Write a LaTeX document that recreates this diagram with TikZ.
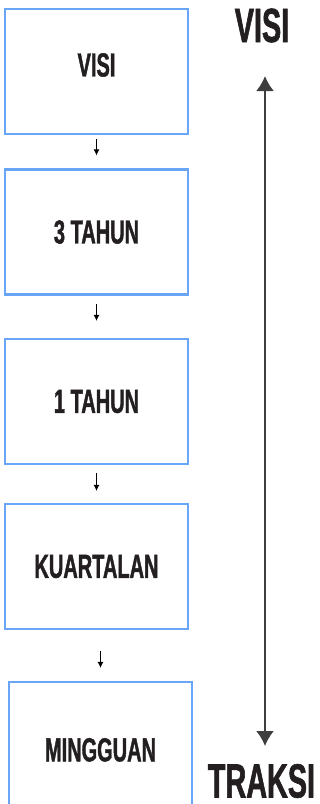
\documentclass[tikz,border=0pt]{standalone}
\usepackage{fontspec}
\setmainfont{Liberation Sans}[FakeStretch=0.6,BoldFeatures={FakeBold=1.2}]
\usetikzlibrary{arrows.meta}

\definecolor{boxblue}{RGB}{106,166,248}
\definecolor{ink}{RGB}{35,31,32}
\definecolor{axisgray}{RGB}{62,62,62}

\tikzset{every picture/.style={line width=0.75pt}}
\tikzset{
  stage/.style={draw=boxblue, line width=1.6pt, minimum width=137.25pt,
    minimum height=93.75pt, inner sep=0pt, text=ink,
    font=\fontsize{25}{25}\selectfont\bfseries},
  endlabel/.style={inner sep=0pt, text=ink,
    font=\fontsize{36}{36}\selectfont\bfseries},
  nextstep/.style={-{Latex[length=4.5pt,width=4.5pt]}, line width=0.75pt, black},
  horizon/.style={{Latex[length=11.25pt,width=13.5pt]}-{Latex[length=11.25pt,width=13.5pt]},
    line width=1.5pt, axisgray}
}

\begin{document}
\begin{tikzpicture}[x=0.75pt,y=0.75pt,yscale=-1,xscale=1]
\useasboundingbox (0,0) rectangle (320,804);

%Shape: Rectangle
\node [stage, text depth=10pt] (visibox) at (96.5,71.5) {VISI};
%Shape: Rectangle
\node [stage] (tiga) at (96.5,232) {3 TAHUN};
%Shape: Rectangle
\node [stage] (satu) at (96.5,401.5) {1 TAHUN};
%Shape: Rectangle
\node [stage] (kuartal) at (96.5,566.5) {KUARTALAN};
%Shape: Rectangle
\node [stage, text height=25.5pt] (minggu) at (100.5,744.5) {MINGGUAN};

%Straight Lines
\draw [nextstep, shorten <=3pt, shorten >=9.75pt] (visibox.south) -- (tiga.north);
%Straight Lines
\draw [nextstep, shorten <=6pt, shorten >=12.75pt] (tiga.south) -- (satu.north);
%Straight Lines
\draw [nextstep, shorten <=6pt, shorten >=9pt] (satu.south) -- (kuartal.north);
%Straight Lines
\draw [nextstep, shorten <=15.75pt, shorten >=9.75pt] (kuartal.south -| minggu.north) -- (minggu.north);

% Text Node
\node [endlabel] (visi) at (262,25.5) {VISI};
% Text Node
\node [endlabel] (traksi) at (261.5,781) {TRAKSI};

\coordinate (atas) at (265,76);
\coordinate (bawah) at (265,746);
%Straight Lines
\draw [horizon] (atas) -- (bawah);

\end{tikzpicture}
\end{document}
